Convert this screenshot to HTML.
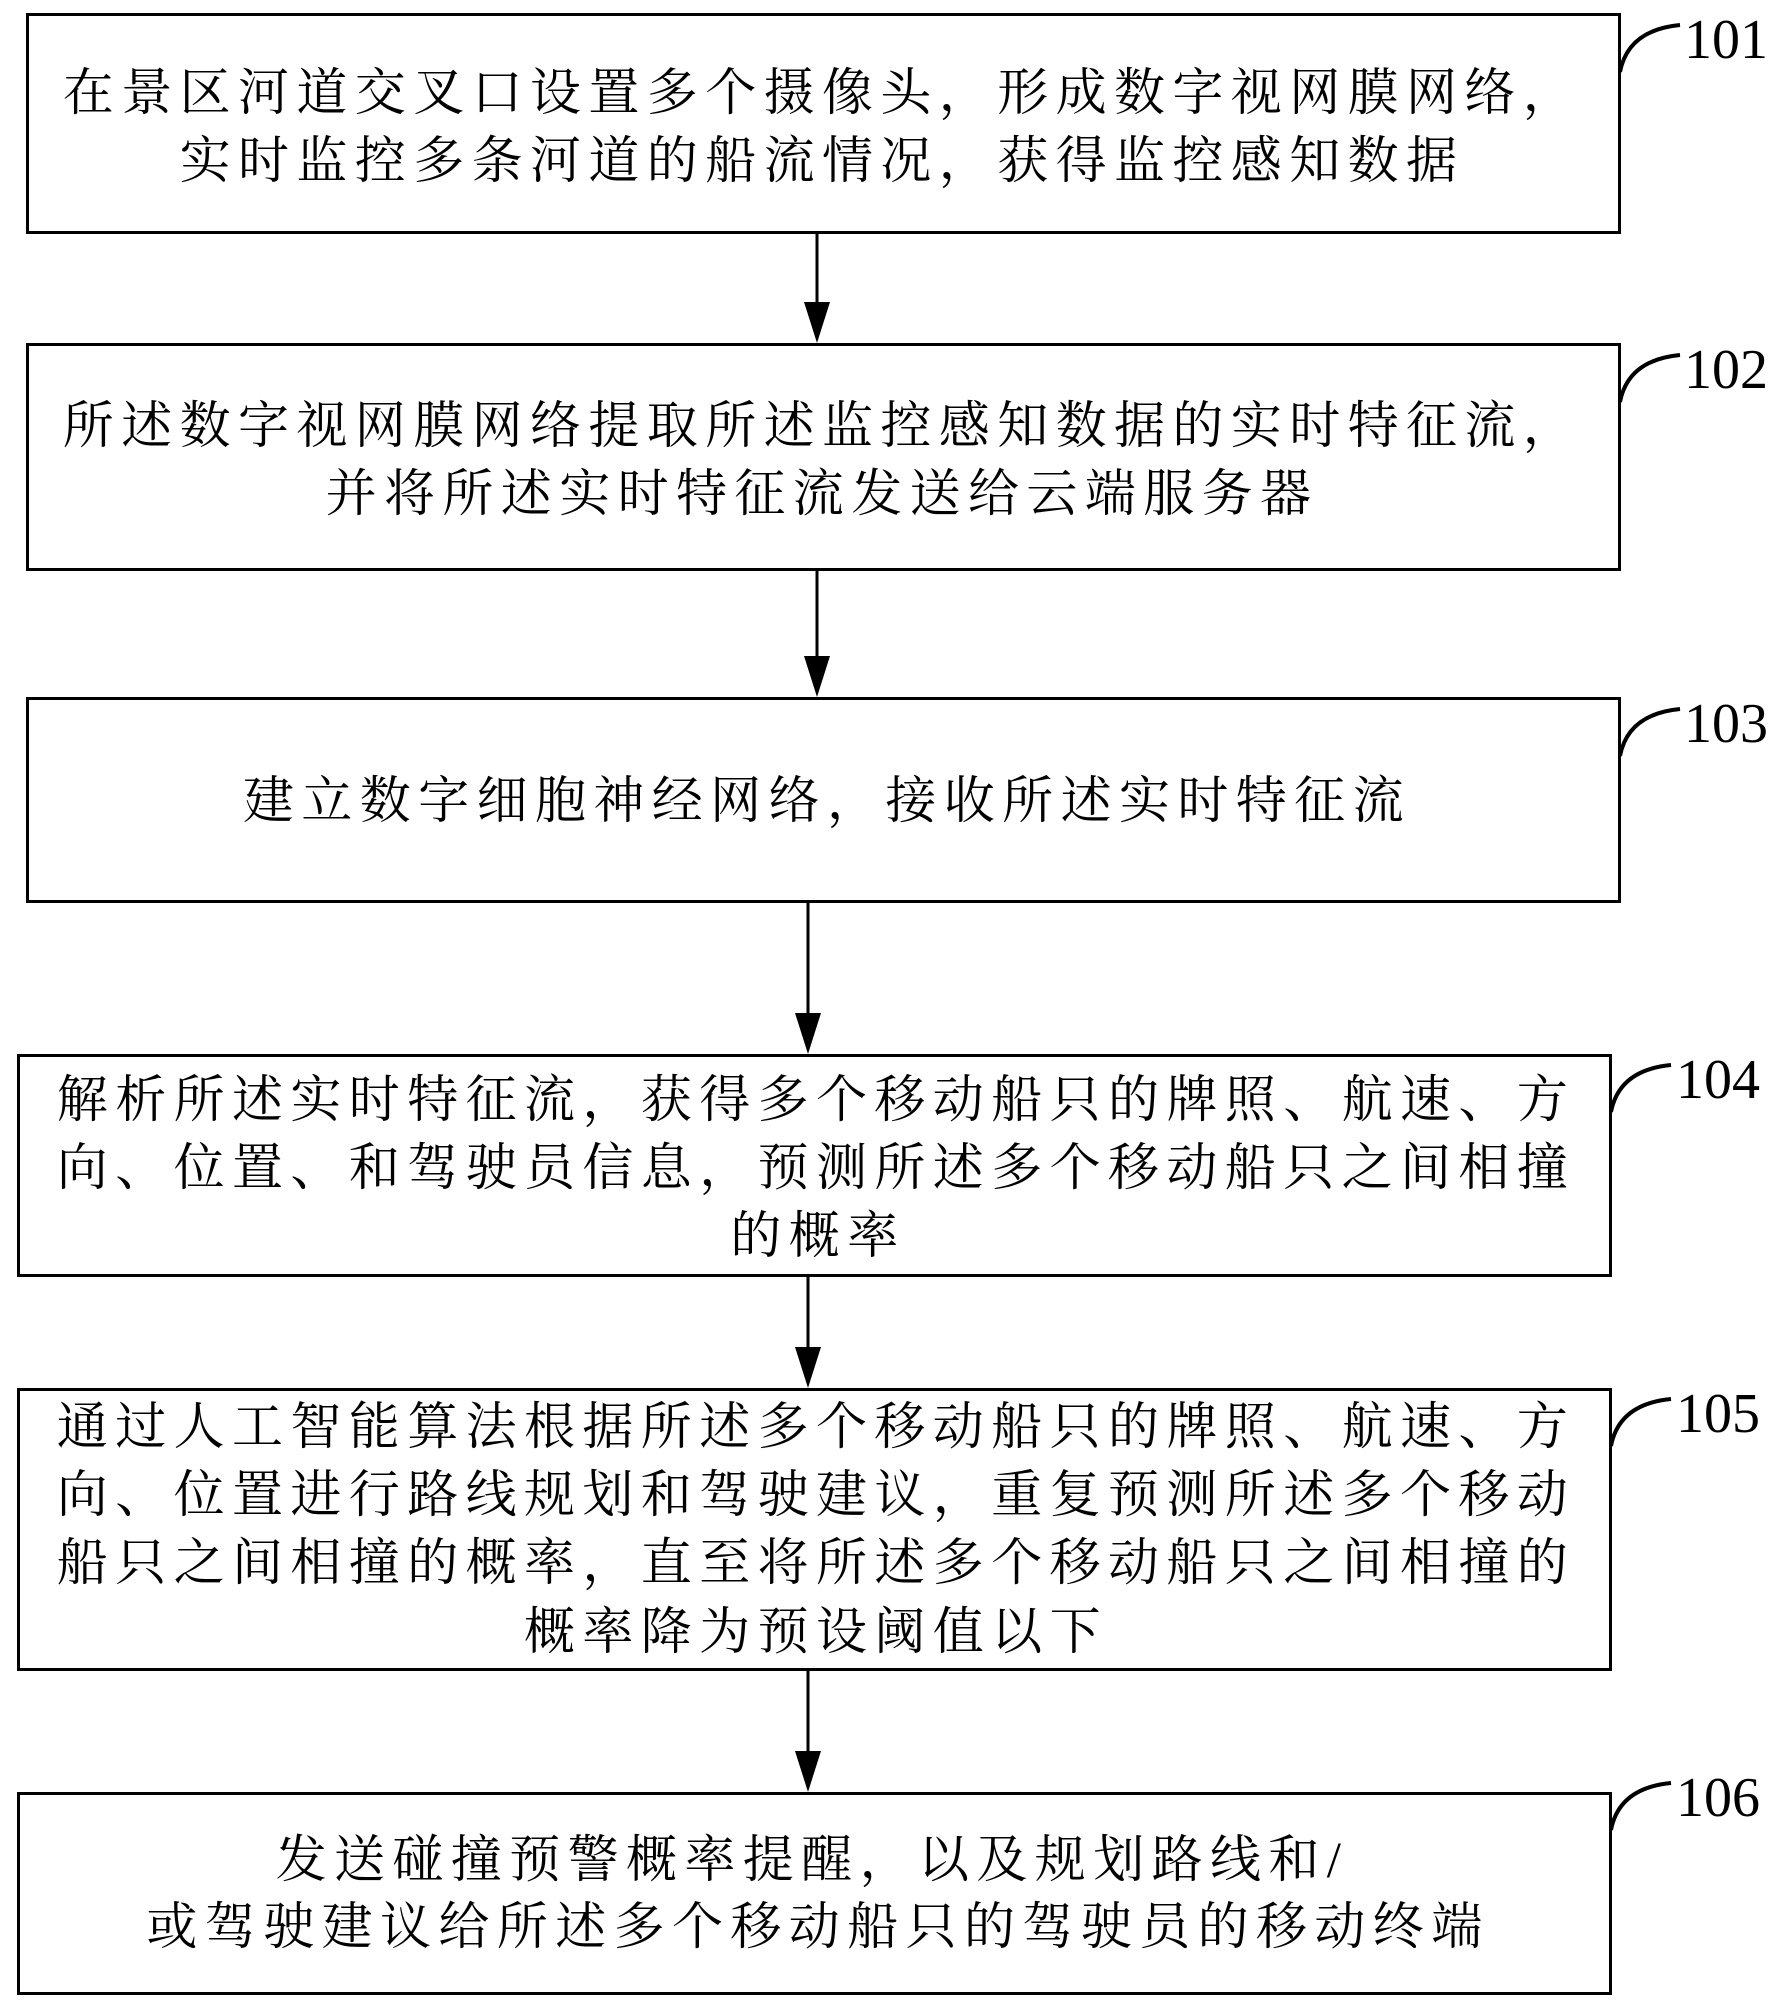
<!DOCTYPE html>
<html><head><meta charset="utf-8"><style>
body{margin:0;width:1780px;height:2005px;background:#fff;position:relative;overflow:hidden}
.b{position:absolute;border:3px solid #000;box-sizing:border-box}
.t{position:absolute;left:0;width:1780px;text-align:center;font-family:"Liberation Serif","Noto Serif CJK SC",serif;font-size:51px;letter-spacing:7.4px;line-height:60px;white-space:nowrap;color:#000}
.n{position:absolute;font-family:"Liberation Serif",serif;font-size:56px;line-height:56px}
</style></head><body>
<div class="b" style="left:26px;top:13px;width:1595px;height:221px"></div>
<div class="b" style="left:26px;top:343px;width:1595px;height:228px"></div>
<div class="b" style="left:26px;top:697px;width:1595px;height:206px"></div>
<div class="b" style="left:17px;top:1054px;width:1595px;height:223px"></div>
<div class="b" style="left:17px;top:1388px;width:1595px;height:283px"></div>
<div class="b" style="left:17px;top:1792px;width:1595px;height:203px"></div>

<div class="t" style="top:64px;left:-68px">在景区河道交叉口设置多个摄像头，形成数字视网膜网络，</div>
<div class="t" style="top:132px;left:-68px">实时监控多条河道的船流情况，获得监控感知数据</div>
<div class="t" style="top:397px;left:-68px">所述数字视网膜网络提取所述监控感知数据的实时特征流，</div>
<div class="t" style="top:465px;left:-68px">并将所述实时特征流发送给云端服务器</div>
<div class="t" style="top:772px;left:-63px">建立数字细胞神经网络，接收所述实时特征流</div>
<div class="t" style="top:1071px;left:-74px">解析所述实时特征流，获得多个移动船只的牌照、航速、方</div>
<div class="t" style="top:1139px;left:-74px">向、位置、和驾驶员信息，预测所述多个移动船只之间相撞</div>
<div class="t" style="top:1207px;left:-72px">的概率</div>
<div class="t" style="top:1398px;left:-74px">通过人工智能算法根据所述多个移动船只的牌照、航速、方</div>
<div class="t" style="top:1466px;left:-74px">向、位置进行路线规划和驾驶建议，重复预测所述多个移动</div>
<div class="t" style="top:1534px;left:-74px">船只之间相撞的概率，直至将所述多个移动船只之间相撞的</div>
<div class="t" style="top:1603px;left:-74px">概率降为预设阈值以下</div>
<div class="t" style="top:1831px;left:-78px">发送碰撞预警概率提醒，以及规划路线和/</div>
<div class="t" style="top:1898px;left:-72px">或驾驶建议给所述多个移动船只的驾驶员的移动终端</div>

<svg width="1780" height="2005" style="position:absolute;left:0;top:0" fill="none" stroke="#000" stroke-width="3">
<line x1="817" y1="234" x2="817" y2="310"/><polygon points="804,302 830,302 817,343" fill="#000" stroke="none"/>
<line x1="817" y1="571" x2="817" y2="664"/><polygon points="804,656 830,656 817,697" fill="#000" stroke="none"/>
<line x1="808" y1="903" x2="808" y2="1020"/><polygon points="795,1013 821,1013 808,1054" fill="#000" stroke="none"/>
<line x1="808" y1="1277" x2="808" y2="1354"/><polygon points="795,1347 821,1347 808,1388" fill="#000" stroke="none"/>
<line x1="808" y1="1671" x2="808" y2="1758"/><polygon points="795,1751 821,1751 808,1792" fill="#000" stroke="none"/>
<g stroke-width="4">
<path d="M1620 72 Q1628 30 1680 25"/>
<path d="M1620 402 Q1628 360 1680 355"/>
<path d="M1620 756 Q1628 714 1680 709"/>
<path d="M1611 1112 Q1619 1070 1671 1065"/>
<path d="M1611 1446 Q1619 1404 1671 1399"/>
<path d="M1611 1830 Q1619 1788 1671 1783"/>
</g>
</svg>
<div class="n" style="left:1684px;top:12px">101</div>
<div class="n" style="left:1684px;top:342px">102</div>
<div class="n" style="left:1684px;top:696px">103</div>
<div class="n" style="left:1676px;top:1052px">104</div>
<div class="n" style="left:1676px;top:1386px">105</div>
<div class="n" style="left:1676px;top:1770px">106</div>
</body></html>
